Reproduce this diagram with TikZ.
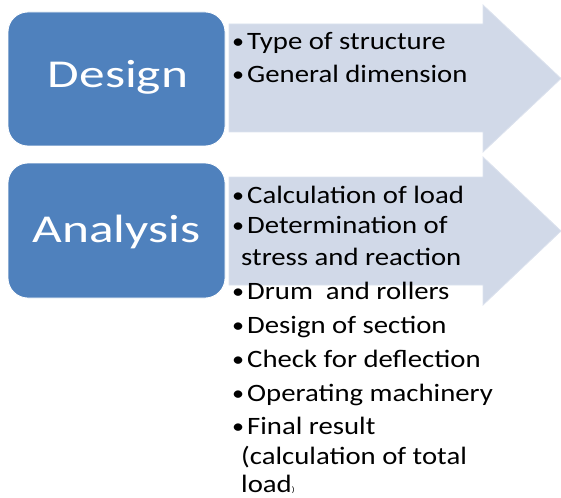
\documentclass[tikz,border=0pt]{standalone}
\usepackage{fontspec}
\setmainfont{Carlito}[FakeStretch=1.15]
\newfontfamily\stagefont{Carlito}[FakeStretch=1.3]
\definecolor{boxblue}{HTML}{4F81BD}
\definecolor{arrowfill}{HTML}{D1D9E8}
\definecolor{arrowedge}{HTML}{DCE2EE}
\newcommand{\itembullet}{\makebox[15pt][l]{\raisebox{1pt}{\fontsize{21}{21}\selectfont\textbullet}}}
\begin{document}
\begin{tikzpicture}[x=1pt,y=-1pt,
  stage/.style={draw=white, line width=0.8pt, fill=boxblue, rounded corners=20pt},
  arrowshape/.style={fill=arrowfill, draw=arrowedge, line width=0.8pt, line join=miter},
  stagetext/.style={text=white, font=\stagefont\fontsize{39.5}{40}\selectfont, inner sep=0pt, anchor=base},
  item/.style={font=\fontsize{25}{25}\selectfont, inner sep=0pt, anchor=base west, text=black}]
\useasboundingbox (0,0) rectangle (561,497);
% arrows
\path[arrowshape] (229,24) -- (483,24) -- (483,5) -- (561,78.5) -- (483,152) -- (483,132) -- (229,132) -- cycle;
\path[arrowshape] (229,177) -- (483,177) -- (483,157) -- (561,231) -- (483,305) -- (483,285) -- (229,285) -- cycle;
% stage boxes
\path[stage] (8,12) rectangle (225,146);
\path[stage] (8,163) rectangle (225,298);
\node[stagetext] (design) at (118,88) {Design};
\node[stagetext] (analysis) at (116.5,242) {Analysis};
% design items
\node[item] (d1) at (232,50) {\itembullet Type of structure};
\node[item] (d2) at (232,83) {\itembullet General dimension};
% analysis items
\node[item] (a1) at (232,203) {\itembullet Calculation of load};
\node[item] (a2) at (232,233) {\itembullet Determination of};
\node[item] (a2b) at (241,265) {stress and reaction};
\node[item] (a3) at (232,299) {\itembullet Drum\ \ and rollers};
\node[item] (a4) at (232,333) {\itembullet Design of section};
\node[item] (a5) at (232,367) {\itembullet Check for deflection};
\node[item] (a6) at (232,401) {\itembullet Operating machinery};
\node[item] (a7) at (232,434) {\itembullet Final result};
\node[item] (a7b) at (241,464) {(calculation of total};
\node[item] (a7c) at (241,492) {load{\fontsize{8}{8}\selectfont )}};
\end{tikzpicture}
\end{document}
